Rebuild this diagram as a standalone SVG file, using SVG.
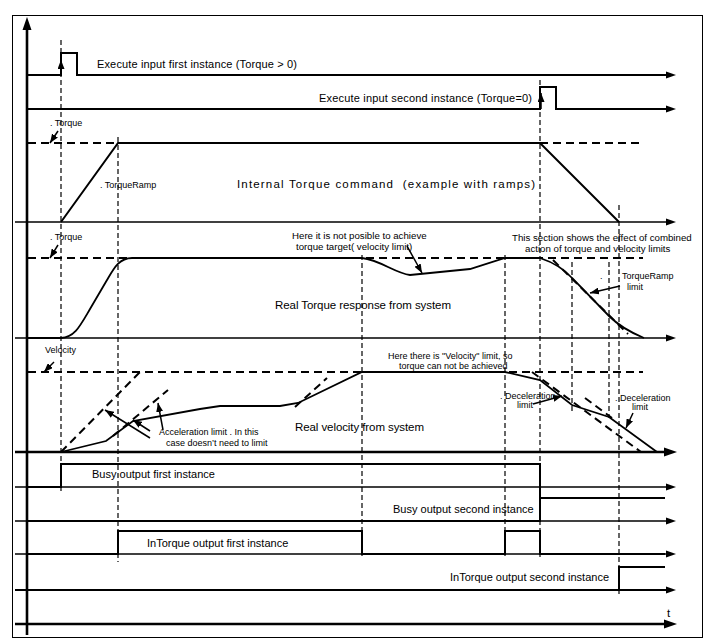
<svg xmlns="http://www.w3.org/2000/svg" width="711" height="641" viewBox="0 0 711 641">
<style>
text{font-family:"Liberation Sans",Arial,sans-serif;fill:#000}
.s{font-size:9px}
.n{font-size:9.7px}
.m{font-size:11px}
.l{font-size:11.5px}
.sig{fill:none;stroke:#000;stroke-width:2}
.ax{fill:none;stroke:#000;stroke-width:1.3}
.axt{fill:none;stroke:#000;stroke-width:2.6}
.dash{fill:none;stroke:#000;stroke-width:2;stroke-dasharray:8 5}
.vd{fill:none;stroke:#000;stroke-width:1.2;stroke-dasharray:5 3}
.cur{fill:none;stroke:#000;stroke-width:1.8}
.ann{fill:none;stroke:#000;stroke-width:1.5}
</style>
<defs>
<marker id="ah" viewBox="0 -4 10 8" refX="0" refY="0" markerWidth="10" markerHeight="8" markerUnits="userSpaceOnUse" orient="auto"><path d="M0,-3.5 L10,0 L0,3.5z"/></marker>
<marker id="ahb" viewBox="0 -5 13 10" refX="0" refY="0" markerWidth="13" markerHeight="10" markerUnits="userSpaceOnUse" orient="auto"><path d="M0,-4.5 L13,0 L0,4.5z"/></marker>
<marker id="sa" viewBox="0 -3.5 9 7" refX="9" refY="0" markerWidth="9" markerHeight="7" markerUnits="userSpaceOnUse" orient="auto"><path d="M0,-3.5 L9,0 L0,3.5z"/></marker>
</defs>
<rect x="12.5" y="15.5" width="690" height="622" fill="#fff" stroke="#000" stroke-width="1"/>

<g id="axes">
<path class="axt" d="M27,635 V30" marker-end="url(#ahb)"/>
<path class="ax" d="M15,222 H666" marker-end="url(#ah)"/>
<path class="ax" d="M15,338 H666" marker-end="url(#ah)"/>
<path class="axt" d="M15,452 H664" marker-end="url(#ahb)"/>
<path class="ax" d="M15,487 H666" marker-end="url(#ah)"/>
<path class="ax" d="M15,521 H666" marker-end="url(#ah)"/>
<path class="ax" d="M15,554 H666" marker-end="url(#ah)"/>
<path class="sig" d="M15,590 H666" marker-end="url(#ah)"/>
<path class="axt" d="M15,624 H664" marker-end="url(#ahb)"/>
<text x="667" y="617" class="l">t</text>
</g>

<g id="timelines">
<path class="vd" d="M61,40 V491"/>
<path class="vd" d="M118,137 V562"/>
<path class="vd" d="M362,255 V558"/>
<path class="vd" d="M505,255 V558"/>
<path class="vd" d="M540,80 V558"/>
<path class="vd" d="M572,262 V414"/>
<path class="vd" d="M609,262 V418"/>
<path class="vd" d="M619,205 V596"/>
</g>

<g id="execute-first">
<path class="sig" d="M27,75 H61 V53 H77 V75 H666" marker-end="url(#ah)"/>
<path class="ann" d="M61,75 V60" marker-end="url(#sa)"/>
<text x="97" y="68" class="m" textLength="200">Execute input first instance (Torque &gt; 0)</text>
</g>

<g id="execute-second">
<path class="sig" d="M27,109 H540 V87 H556 V109 H666" marker-end="url(#ah)"/>
<path class="ann" d="M541,109 V93" marker-end="url(#sa)"/>
<text x="319" y="102" class="m" textLength="213">Execute input second instance (Torque=0)</text>
</g>

<g id="internal-torque">
<path class="dash" d="M28,143 H118"/>
<path class="dash" d="M540,143 H643"/>
<path class="sig" d="M61,222 L118,143 H540 L619,222"/>
<text x="50" y="126" class="s">. Torque</text>
<text x="100" y="188" class="s">. TorqueRamp</text>
<text x="237" y="188" class="l" xml:space="preserve" textLength="298">Internal Torque command  (example with ramps)</text>
</g>

<g id="real-torque">
<path class="dash" d="M28,258 H643"/>
<path class="dash" d="M553,260 L628,334"/>
<path class="cur" d="M28,338 H61 C75,337 80,326 90,309 L107,280 C114,268 119,258 132,258 H362 C380,260 395,273 410,275 L470,269 L505,258 H540 C555,263 565,270 572,278 L609,316 C620,327 632,333 644,338"/>
<text x="50" y="240" class="s">. Torque</text>
<text x="292" y="239" class="n">Here it is not posible to achieve</text>
<text x="296" y="250" class="n">torque target( velocity limit)</text>
<text x="512" y="241" class="n">This section shows the effect of combined</text>
<text x="525" y="252" class="n">action of torque and velocity limits</text>
<text x="600" y="279" class="s">.</text>
<text x="622" y="279" class="s">TorqueRamp</text>
<text x="627" y="290" class="s">limit</text>
<text x="275" y="309" class="l" textLength="176">Real Torque response from system</text>
</g>

<g id="real-velocity">
<path class="dash" d="M28,372 H643"/>
<path class="dash" d="M61,452 L140,372"/>
<path class="dash" d="M113,436 L168,390"/>
<path class="dash" d="M295,407 L327,378"/>
<path class="dash" d="M532,372 L641,452"/>
<path class="dash" d="M585,398 L612,418"/>
<path class="cur" d="M61,452 L106,441 L133,421 L200,409 L220,406 L280,406 L298,403 L362,372 H505 L540,380 L572,405 L609,417 L657,452"/>
<text x="45" y="353" class="s">Velocity</text>
<text x="388" y="359" class="s">Here there is "Velocity" limit, so</text>
<text x="399" y="369" class="s">torque can not be achieved</text>
<text x="159" y="435" class="s">Acceleration limit . In this</text>
<text x="166" y="446" class="s">case doesn’t need to limit</text>
<text x="295" y="431" class="l" textLength="129">Real velocity from system</text>
<text x="500" y="399" class="s">. Deceleration</text>
<text x="517" y="408" class="s">limit</text>
<text x="615" y="401" class="s">. Deceleration</text>
<text x="632" y="410" class="s">limit</text>
</g>

<g id="busy-first">
<path class="sig" d="M27,487 H61 V464 H540 V521"/>
<text x="92" y="478" class="m">Busy output first instance</text>
</g>

<g id="busy-second">
<path class="sig" d="M27,521 H540 V498 H665"/>
<text x="393" y="513" class="m">Busy output second instance</text>
</g>

<g id="intorque-first">
<path class="sig" d="M27,554 H118 V531 H362 V554 H505 V531 H540 V554 H665"/>
<text x="147" y="547" class="m">InTorque output first instance</text>
</g>

<g id="intorque-second">
<path class="sig" d="M27,590 H619 V567 H665"/>
<text x="450" y="581" class="m">InTorque output second instance</text>
</g>

<g id="connectors">
<path class="ann" d="M58,131 L50,143" marker-end="url(#sa)"/>
<path class="ann" d="M58,245 L50,258" marker-end="url(#sa)"/>
<path class="ann" d="M54,362 L44,372" marker-end="url(#sa)"/>
<path class="ann" d="M407,246 L422,273" marker-end="url(#sa)"/>
<path class="ann" d="M620,286 L590,293" marker-end="url(#sa)"/>
<path class="ann" d="M150,438 L105,410" marker-end="url(#sa)"/>
<path class="ann" d="M150,431 L133,420" marker-end="url(#sa)"/>
<path class="ann" d="M163,430 L158,403" marker-end="url(#sa)"/>
<path class="ann" d="M533,404 L562,396" marker-end="url(#sa)"/>
<path class="ann" d="M633,413 L626,428" marker-end="url(#sa)"/>
</g>
</svg>
